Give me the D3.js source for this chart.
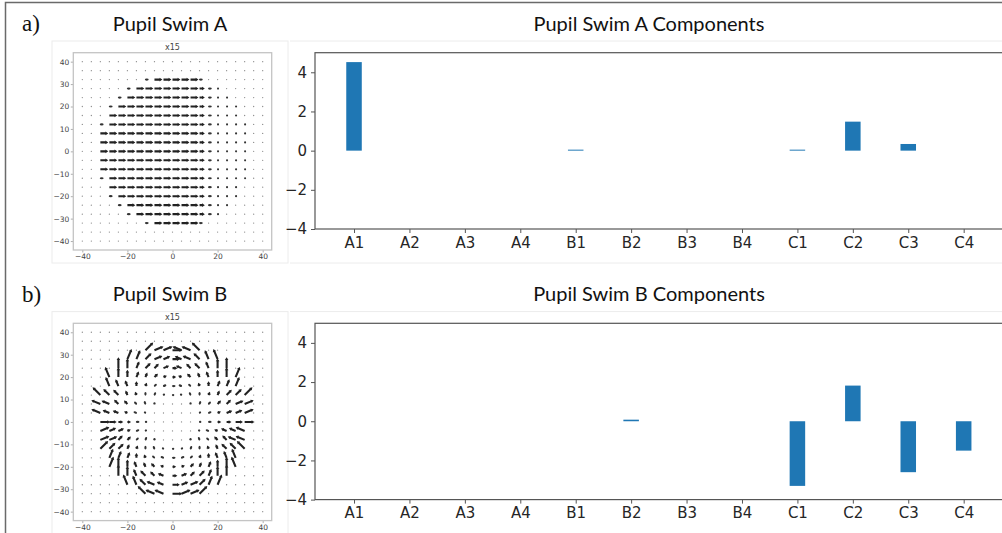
<!DOCTYPE html>
<html><head><meta charset="utf-8">
<script src="https://cdn.jsdelivr.net/npm/d3@7"></script>
<style>body{margin:0;background:#fff;} svg{display:block;}</style>
</head><body>
<svg id="c" width="1002" height="533"></svg>
<script>
// ---------------- data ----------------
const categories = ["A1","A2","A3","A4","B1","B2","B3","B4","C1","C2","C3","C4"];
const swimA = [4.52, 0, 0, 0, 0.05, 0, 0, 0, 0.05, 1.48, 0.34, 0];
const swimB = [0, 0, 0, 0, 0, 0.08, 0, 0, -3.3, 1.82, -2.6, -1.5];
const barTicks = [-4, -2, 0, 2, 4];
const barDomain = [-4, 5];
const panelLabels = ["a)", "b)"];
const quiverTitles = ["Pupil Swim A", "Pupil Swim B"];
const barTitles = ["Pupil Swim A Components", "Pupil Swim B Components"];
const quiverScaleLabel = "x15";
const quiverGridX = [-40,-36,-32,-28,-24,-20,-16,-12,-8,-4,0,4,8,12,16,20,24,28,32,36,40];
const quiverGridY = [40,36,32,28,24,20,16,12,8,4,0,-4,-8,-12,-16,-20,-24,-28,-32,-36,-40];
const quiverXTicks = [-40, -20, 0, 20, 40];
const quiverYTicks = [-40, -30, -20, -10, 0, 10, 20, 30, 40];
const quiverDomain = [-44, 44];
// arrow magnitude (0-9) per grid point, rows top (y=40) to bottom (y=-40), columns x=-40..40
const quiverAMag = [
  "000000000000000000000",
  "000000000000000000000",
  "000000039999930000000",
  "000003999999963100000",
  "000039999999963110000",
  "000399999999963111000",
  "000999999999963111000",
  "003999999999963111100",
  "009999999999963111100",
  "009999999999963111100",
  "009999999999963111100",
  "009999999999963111100",
  "009999999999963111100",
  "003999999999963111100",
  "000999999999963111000",
  "000399999999963111000",
  "000039999999963110000",
  "000003999999963100000",
  "000000039999930000000",
  "000000000000000000000",
  "000000000000000000000"
];
// direction code per grid point in steps of 22.5 degrees (0 = pointing right)
const quiverADir = [
  "000000000000000000000","000000000000000000000","000000000000000000000",
  "000000000000000000000","000000000000000000000","000000000000000000000",
  "000000000000000000000","000000000000000000000","000000000000000000000",
  "000000000000000000000","000000000000000000000","000000000000000000000",
  "000000000000000000000","000000000000000000000","000000000000000000000",
  "000000000000000000000","000000000000000000000","000000000000000000000",
  "000000000000000000000","000000000000000000000","000000000000000000000"
];
const quiverBMag = [
  "000000000000000000000",
  "000000000000000000000",
  "000000098888890000000",
  "000009877666778900000",
  "000098665545566890000",
  "000986544333445689000",
  "000865432222234568000",
  "009764322111223467900",
  "008754221000122457800",
  "008653210000012356800",
  "008643210000012346800",
  "008653210000012356800",
  "008754221000122457800",
  "009764322111223467900",
  "000865432222234568000",
  "000986544333445689000",
  "000098665545566890000",
  "000009877666778900000",
  "000000098888890000000",
  "000000000000000000000",
  "000000000000000000000"
];
const quiverBDir = [
  "000000000000000000000",
  "000000000000000000000",
  "000000021107760000000",
  "000003321107765500000",
  "000044322107665440000",
  "000544332107655443000",
  "000555432107654333000",
  "006665543206543322200",
  "007766654000432221100",
  "007777760000021111100",
  "000000000000000000000",
  "001111120000067777700",
  "001122234000456667700",
  "002223345602345566600",
  "000333456701234555000",
  "000344556701233445000",
  "000044566701223440000",
  "000005567701123300000",
  "000000067701120000000",
  "000000000000000000000",
  "000000000000000000000"
];

// ---------------- drawing ----------------
const svg = d3.select("#c");
const panelDy = 270.6;
const titleFont = "Lato, 'Open Sans', sans-serif";
const tickFont = "'DejaVu Sans', sans-serif";

// outer frame
svg.append("path").attr("d", "M5.5,533V2.5H1002").attr("fill", "none")
  .attr("stroke", "#6a6a6a").attr("stroke-width", 1.5);

function drawQuiver(dy, mags, dirs, pxPerUnit) {
  const g = svg.append("g").attr("transform", `translate(0,${dy})`);
  // faint border of the embedded plot image
  g.append("rect").attr("x", 52).attr("y", 41).attr("width", 236).attr("height", 222)
    .attr("fill", "none").attr("stroke", "#ececec").attr("stroke-width", 1);
  const x = d3.scaleLinear().domain(quiverDomain).range([73.3, 271.7]);
  const y = d3.scaleLinear().domain(quiverDomain).range([250, 52.7]);
  const xAxis = g.append("g").attr("transform", "translate(0,250)")
    .call(d3.axisBottom(x).tickValues(quiverXTicks).tickSize(2.5).tickPadding(1.5)
      .tickFormat(d => d3.format("d")(d).replace("-", "\u2212")));
  const yAxis = g.append("g").attr("transform", "translate(73.3,0)")
    .call(d3.axisLeft(y).tickValues(quiverYTicks).tickSize(2.5).tickPadding(1.5)
      .tickFormat(d => d3.format("d")(d).replace("-", "\u2212")));
  [xAxis, yAxis].forEach(a => {
    a.select(".domain").remove();
    a.selectAll("line").attr("stroke", "#999").attr("stroke-width", 0.8);
    a.selectAll("text").attr("font-family", tickFont).attr("font-size", 7.5).attr("fill", "#444");
  });
  g.append("rect").attr("x", 73.3).attr("y", 52.7).attr("width", 198.4).attr("height", 197.3)
    .attr("fill", "none").attr("stroke", "#c4c4c4").attr("stroke-width", 1.3);
  g.append("text").attr("x", 172.5).attr("y", 49.5).attr("text-anchor", "middle")
    .attr("font-family", tickFont).attr("font-size", 8).attr("fill", "#444").text(quiverScaleLabel);

  const pts = [];
  quiverGridY.forEach((gy, j) => {
    quiverGridX.forEach((gx, i) => {
      pts.push({gx, gy, m: +mags[j][i], d: dirs ? +dirs[j][i] : 0});
    });
  });
  const w = 2.1, hw = 3.6, hl = 2.8;
  const arrows = g.append("g");
  pts.forEach(p => {
    const cx = x(p.gx), cy = y(p.gy);
    const L = p.m * pxPerUnit;
    const ang = -p.d * 22.5;
    if (p.m === 0) {
      arrows.append("circle").attr("cx", cx).attr("cy", cy).attr("r", 0.65).attr("fill", "#8a8a8a");
    } else if (L < 3.4) {
      arrows.append("ellipse").attr("cx", L / 2).attr("cy", 0).attr("rx", L / 2 + 0.6).attr("ry", 1.1)
        .attr("transform", `translate(${cx},${cy}) rotate(${ang})`).attr("fill", "#333");
    } else {
      const pth = `M0,${-w/2}L${L-hl},${-w/2}L${L-hl},${-hw/2}L${L},0L${L-hl},${hw/2}L${L-hl},${w/2}L0,${w/2}Z`;
      arrows.append("path").attr("d", pth)
        .attr("transform", `translate(${cx},${cy}) rotate(${ang})`).attr("fill", "#222");
    }
  });
}

function drawBars(dy, values) {
  const g = svg.append("g").attr("transform", `translate(0,${dy})`);
  g.append("line").attr("x1", 290).attr("x2", 1002).attr("y1", 41).attr("y2", 41)
    .attr("stroke", "#ececec").attr("stroke-width", 1);
  g.append("line").attr("x1", 290).attr("x2", 1002).attr("y1", 263).attr("y2", 263)
    .attr("stroke", "#ececec").attr("stroke-width", 1);
  const x = d3.scaleLinear().domain([-0.704, 11.704]).range([315, 1002.7]);
  const y = d3.scaleLinear().domain(barDomain).range([229, 52.7]);
  const bw = 0.28;
  g.selectAll("rect.bar").data(values).join("rect").attr("class", "bar")
    .attr("x", (d, i) => x(i - bw / 2))
    .attr("width", (d, i) => x(i + bw / 2) - x(i - bw / 2))
    .attr("y", d => y(Math.max(0, d)))
    .attr("height", d => Math.abs(y(d) - y(0)))
    .attr("fill", "#1f77b4");
  const xa = g.append("g").attr("transform", "translate(0,229)")
    .call(d3.axisBottom(x).tickValues(d3.range(categories.length)).tickSize(4).tickPadding(4)
      .tickFormat(i => categories[i]));
  const ya = g.append("g").attr("transform", "translate(315,0)")
    .call(d3.axisLeft(y).tickValues(barTicks).tickSize(4).tickPadding(4)
      .tickFormat(d => d3.format("d")(d).replace("-", "\u2212")));
  [xa, ya].forEach(a => {
    a.select(".domain").remove();
    a.selectAll("line").attr("stroke", "#555").attr("stroke-width", 1);
    a.selectAll("text").attr("font-family", tickFont).attr("font-size", 15).attr("fill", "#262626");
  });
  g.append("rect").attr("x", 315).attr("y", 52.7).attr("width", 700).attr("height", 229 - 52.7)
    .attr("fill", "none").attr("stroke", "#555").attr("stroke-width", 1.2);
}

[0, 1].forEach(k => {
  const dy = k * panelDy;
  drawQuiver(dy, k === 0 ? quiverAMag : quiverBMag, k === 0 ? quiverADir : quiverBDir, k === 0 ? 0.88 : 1.22);
  drawBars(dy, k === 0 ? swimA : swimB);
  svg.append("text").attr("x", 22).attr("y", 31 + dy)
    .attr("font-family", "'Liberation Serif', 'Times New Roman', serif").attr("font-size", 23)
    .attr("fill", "#111").text(panelLabels[k]);
  svg.append("text").attr("x", 170).attr("y", 30.5 + dy).attr("text-anchor", "middle")
    .attr("font-family", titleFont).attr("font-size", 20).attr("fill", "#111").text(quiverTitles[k]);
  svg.append("text").attr("x", 649).attr("y", 30.5 + dy).attr("text-anchor", "middle")
    .attr("font-family", titleFont).attr("font-size", 20).attr("fill", "#111").text(barTitles[k]);
});
</script>
</body></html>
